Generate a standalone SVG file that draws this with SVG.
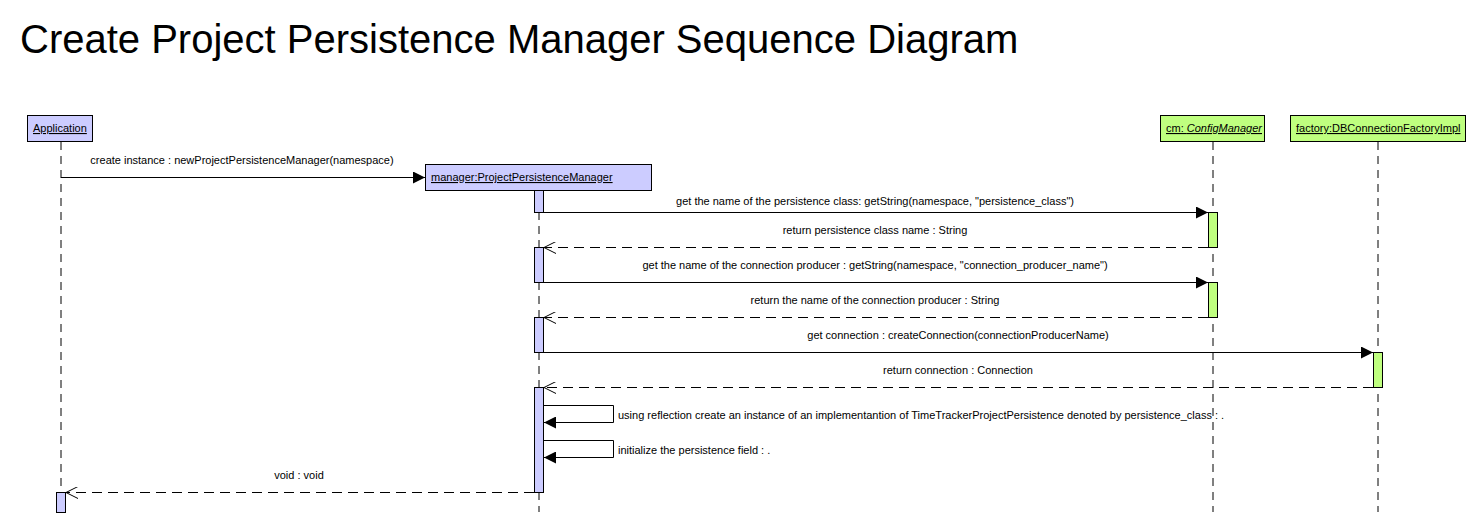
<svg xmlns="http://www.w3.org/2000/svg" width="1477" height="523" viewBox="0 0 1477 523">
<defs>
<marker id="fill" markerWidth="12" markerHeight="12" refX="12" refY="6" orient="auto" markerUnits="userSpaceOnUse"><path d="M0,0 L12,6 L0,12 Z" fill="#000"/></marker>
<marker id="open" markerWidth="12" markerHeight="12" refX="12" refY="6" orient="auto" markerUnits="userSpaceOnUse"><path d="M0,0 L12,6 L0,12" fill="none" stroke="#000" stroke-width="1"/></marker>
</defs>
<style>
text{font-family:"Liberation Sans",Arial,sans-serif;font-size:11px;fill:#000}
.title{font-size:40px}
.lbl{text-anchor:middle}
.obj{text-decoration:underline}
.blue{fill:#ccccff;stroke:#000;stroke-width:1}
.green{fill:#bfff7f;stroke:#000;stroke-width:1}
.life{stroke:#000;stroke-width:1;stroke-dasharray:8,6;fill:none}
.msg{stroke:#000;stroke-width:1;fill:none;marker-end:url(#fill)}
.ret{stroke:#000;stroke-width:1;fill:none;stroke-dasharray:10,6;marker-end:url(#open)}
</style>
<rect width="1477" height="523" fill="#fff"/>
<text class="title" x="20" y="53">Create Project Persistence Manager Sequence Diagram</text>

<g id="lifelines">
<line class="life" x1="61" y1="142" x2="61" y2="492"/>
<line class="life" x1="539" y1="212" x2="539" y2="512"/>
<line class="life" x1="1213" y1="142" x2="1213" y2="512"/>
<line class="life" x1="1378" y1="142" x2="1378" y2="512"/>
</g>

<g id="application">
<rect class="blue" x="27.5" y="115.5" width="65" height="26"/>
<text class="obj" x="33" y="132">Application</text>
<rect class="blue" x="56.5" y="492.5" width="9" height="20"/>
</g>

<g id="manager">
<rect class="blue" x="425.5" y="164.5" width="226" height="26"/>
<text class="obj" x="431" y="181">manager:ProjectPersistenceManager</text>
<rect class="blue" x="534.5" y="190.5" width="9" height="22"/>
<rect class="blue" x="534.5" y="247.5" width="9" height="35"/>
<rect class="blue" x="534.5" y="317.5" width="9" height="35"/>
<rect class="blue" x="534.5" y="387.5" width="9" height="105"/>
</g>

<g id="configmanager">
<rect class="green" x="1160.5" y="115.5" width="104" height="26"/>
<text class="obj" x="1166" y="132">cm: <tspan font-style="italic">ConfigManager</tspan></text>
<rect class="green" x="1208.5" y="212.5" width="9" height="35"/>
<rect class="green" x="1208.5" y="282.5" width="9" height="35"/>
</g>

<g id="factory">
<rect class="green" x="1290.5" y="115.5" width="175" height="26"/>
<text class="obj" x="1296" y="132">factory:DBConnectionFactoryImpl</text>
<rect class="green" x="1373.5" y="352.5" width="9" height="35"/>
</g>

<g id="connectors">
<line class="msg" x1="61" y1="177.5" x2="425" y2="177.5"/>
<text class="lbl" x="242" y="164">create instance : newProjectPersistenceManager(namespace)</text>

<line class="msg" x1="543" y1="212.5" x2="1208" y2="212.5"/>
<text class="lbl" x="875" y="205">get the name of the persistence class: getString(namespace, "persistence_class")</text>

<line class="ret" x1="1208" y1="247.5" x2="544" y2="247.5"/>
<text class="lbl" x="875" y="234">return persistence class name : String</text>

<line class="msg" x1="543" y1="282.5" x2="1208" y2="282.5"/>
<text class="lbl" x="875" y="269">get the name of the connection producer : getString(namespace, "connection_producer_name")</text>

<line class="ret" x1="1208" y1="317.5" x2="544" y2="317.5"/>
<text class="lbl" x="875" y="304">return the name of the connection producer : String</text>

<line class="msg" x1="543" y1="352.5" x2="1373" y2="352.5"/>
<text class="lbl" x="958" y="339">get connection : createConnection(connectionProducerName)</text>

<line class="ret" x1="1373" y1="387.5" x2="544" y2="387.5"/>
<text class="lbl" x="958" y="374">return connection : Connection</text>

<path class="msg" d="M543,405.5 H613.5 V422.5 H544"/>
<text x="618" y="419">using reflection create an instance of an implementantion of TimeTrackerProjectPersistence denoted by persistence_class : .</text>

<path class="msg" d="M543,440.5 H613.5 V457.5 H544"/>
<text x="618" y="454">initialize the persistence field : .</text>

<line class="ret" x1="534" y1="492.5" x2="66" y2="492.5"/>
<text class="lbl" x="299" y="479">void : void</text>
</g>
</svg>
